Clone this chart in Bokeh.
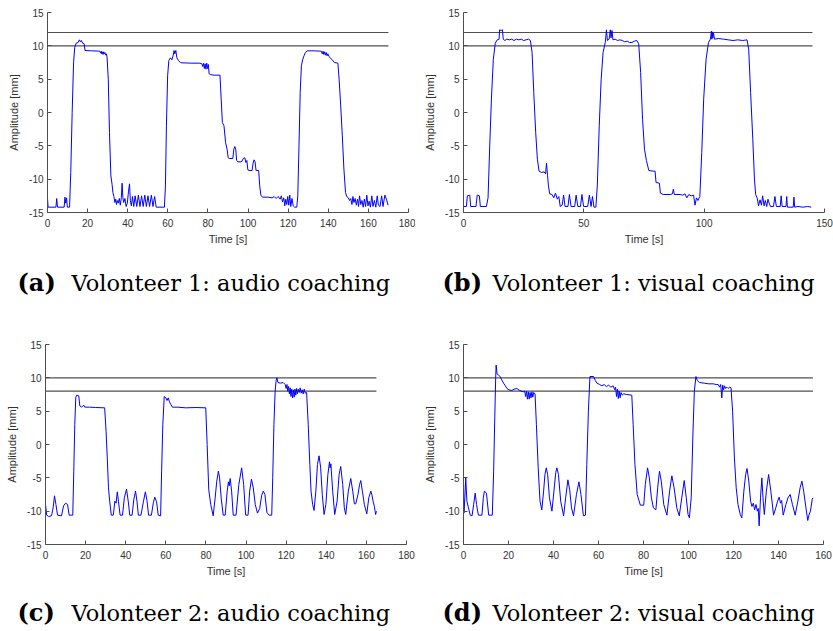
from bokeh.plotting import figure
from bokeh.layouts import column, row
from bokeh.models import Range1d, FixedTicker
from bokeh.embed import file_html
from bokeh.resources import INLINE
from bokeh.core.properties import value

# ---------------- data ----------------
y_ticks = [-15, -10, -5, 0, 5, 10, 15]

a_xticks = [0, 20, 40, 60, 80, 100, 120, 140, 160, 180]
b_xticks = [0, 50, 100, 150]
c_xticks = [0, 20, 40, 60, 80, 100, 120, 140, 160, 180]
d_xticks = [0, 20, 40, 60, 80, 100, 120, 140, 160]

a_xmax, b_xmax, c_xmax, d_xmax = 180, 150, 180, 160

a_levels = [10, 12]
b_levels = [10, 12]
c_levels = [8, 10]
d_levels = [8, 10]

a_end, b_end, c_end, d_end = 170, 145, 165, 155.3

trace_a = [(0.0,-12.9),(0.3,-14.2),(4.2,-14.2),(4.6,-12.9),(5.0,-14.2),(8.3,-14.2),(8.7,-12.7),(9.1,-13.6),(9.5,-12.8),(9.9,-14.2),
    (11.0,-14.2),(11.6,-9.0),(12.3,0.0),(13.0,7.5),(13.6,9.8),(14.3,10.4),(15.2,10.5),(15.9,10.9),(16.4,10.6),(16.9,10.8),(17.5,10.4),
    (18.3,10.3),(18.7,9.3),(22.0,9.25),(26.0,9.2),(26.5,8.9),(26.8,9.2),(27.1,8.8),(27.4,9.1),(27.7,8.7),(28.0,9.1),(28.3,8.8),(28.6,9.0),
    (29.0,8.6),(29.4,8.8),(29.7,8.3),(30.3,5.0),(30.9,-3.0),(31.6,-9.5),(32.2,-10.8),(32.6,-12.0),(33.1,-12.6),(33.6,-13.5),(34.0,-13.0),
    (34.4,-13.8),(34.8,-13.2),(35.3,-13.6),(35.8,-12.9),(36.3,-13.9),(36.8,-12.8),(37.2,-10.6),(37.6,-12.8),(38.0,-13.5),(38.6,-12.9),
    (39.2,-14.1),(39.8,-13.6),(40.4,-11.8),(40.9,-10.7),(41.3,-13.2),(41.8,-14.0),(42.4,-12.6),(43.0,-14.1),(43.7,-12.5),(44.5,-14.1),
    (45.3,-12.4),(46.1,-14.1),(46.9,-12.5),(47.7,-14.1),(48.5,-12.4),(49.3,-14.1),(50.1,-12.5),(50.9,-14.1),(51.8,-12.4),(52.6,-14.1),
    (53.4,-12.6),(54.2,-14.2),(58.3,-14.2),(58.8,-11.0),(59.3,-2.0),(59.9,5.5),(60.5,7.8),(61.3,8.2),(62.0,7.9),(62.6,8.5),(63.1,9.3),
    (63.5,8.8),(64.0,9.3),(64.5,8.2),(65.3,7.8),(66.2,7.5),(67.0,7.45),(72.0,7.4),(76.0,7.4),(77.0,7.3),(77.4,6.9),(77.8,7.4),(78.2,6.6),
    (78.6,7.3),(79.0,6.5),(79.4,7.4),(79.8,6.6),(80.2,7.2),(80.6,5.8),(81.2,5.7),(83.0,5.6),(86.0,5.6),(86.6,2.0),(87.2,-1.5),(88.0,-2.0),
    (88.8,-4.5),(89.6,-5.6),(90.1,-6.8),(90.6,-6.9),(92.4,-6.9),(92.9,-5.5),(93.4,-5.1),(93.9,-5.6),(94.3,-7.2),(95.0,-7.4),(96.4,-7.4),
    (97.0,-7.3),(97.6,-6.9),(98.4,-6.8),(98.9,-7.5),(99.4,-7.2),(99.9,-8.6),(100.5,-8.7),(102.0,-8.7),(102.5,-7.6),(103.0,-7.1),(103.5,-7.4),
    (104.0,-8.7),(105.3,-8.7),(105.8,-11.0),(106.4,-12.4),(107.2,-12.7),(110.0,-12.7),(112.0,-12.8),(113.0,-12.6),(114.0,-12.9),(115.0,-12.6),
    (116.0,-13.0),(116.6,-12.5),(117.2,-13.4),(117.8,-12.8),(118.3,-14.0),(118.8,-13.0),(119.3,-13.8),(119.8,-12.6),(120.3,-13.9),(120.8,-12.4),
    (121.3,-14.1),(121.9,-12.9),(122.5,-14.0),(123.2,-14.2),(124.3,-14.2),(124.8,-12.5),(125.4,-5.0),(126.0,3.0),(126.6,7.0),(127.3,8.0),
    (127.9,8.5),(128.6,9.0),(129.5,9.25),(133.0,9.25),(136.5,9.2),(137.0,8.8),(137.4,9.2),(137.8,8.7),(138.2,9.1),(138.6,8.6),(139.0,9.0),
    (139.4,8.5),(139.8,8.8),(140.4,8.4),(141.2,8.1),(142.0,7.9),(143.0,7.5),(144.8,7.4),(145.4,5.0),(146.2,1.0),(147.0,-3.5),(147.8,-8.5),
    (148.6,-12.0),(149.2,-12.6),(150.0,-12.8),(150.6,-13.2),(151.2,-12.9),(151.8,-13.8),(152.3,-12.6),(152.8,-13.5),(153.4,-12.9),(154.0,-13.9),
    (154.6,-13.0),(155.1,-14.1),(155.6,-12.5),(156.2,-13.8),(156.8,-13.2),(157.4,-14.2),(158.0,-13.0),(158.6,-14.1),(159.2,-12.4),(159.8,-14.0),
    (160.4,-13.3),(161.0,-14.2),(161.7,-12.5),(162.3,-14.1),(163.0,-13.2),(163.7,-14.2),(164.4,-12.5),(165.0,-13.9),(165.8,-14.1),(166.6,-12.5),
    (167.3,-14.1),(168.2,-12.4),(169.0,-13.0),(169.8,-13.9)]

trace_b = [(0.0,-14.1),(1.2,-14.1),(1.6,-12.5),(2.6,-12.4),(3.0,-14.1),(5.2,-14.1),(5.7,-12.4),(6.6,-12.5),(7.0,-14.1),(9.5,-14.1),
    (10.2,-12.8),(10.9,-5.0),(11.6,2.0),(12.4,8.0),(13.2,10.4),(14.0,10.9),(14.8,11.0),(15.0,12.4),(15.6,12.3),(16.2,12.4),(16.5,11.0),
    (17.2,10.8),(18.0,11.0),(19.0,10.9),(20.0,11.0),(21.0,10.8),(22.0,11.0),(23.0,10.9),(24.0,11.0),(25.0,10.8),(26.0,10.9),(27.0,11.0),
    (27.8,10.8),(28.5,9.0),(29.2,3.0),(30.0,-3.0),(30.7,-7.0),(31.4,-8.8),(32.5,-9.0),(33.5,-8.9),(34.1,-9.2),(34.5,-7.6),(34.9,-9.4),
    (35.3,-11.0),(35.8,-12.2),(36.8,-12.3),(37.5,-12.8),(38.2,-12.1),(39.0,-13.0),(39.6,-12.6),(40.2,-14.1),(41.0,-13.9),(41.6,-12.4),
    (42.2,-14.1),(43.4,-14.1),(44.0,-12.3),(44.7,-14.1),(46.2,-14.1),(46.8,-12.4),(47.5,-14.1),(48.6,-14.1),(49.2,-12.3),(49.9,-14.1),
    (51.6,-14.1),(52.3,-12.4),(53.0,-14.1),(53.6,-12.6),(54.2,-14.2),(55.0,-14.2),(55.6,-11.0),(56.4,-2.0),(57.2,5.0),(58.0,9.0),(58.9,10.5),
    (59.4,12.4),(59.8,10.8),(60.5,11.0),(61.0,12.4),(61.3,11.2),(61.7,12.3),(62.1,10.9),(63.0,11.0),(64.0,10.8),(65.0,10.9),(66.0,10.8),
    (67.0,10.6),(68.0,10.7),(69.0,10.5),(70.0,10.5),(71.0,10.7),(72.0,10.8),(72.8,10.3),(73.6,6.0),(74.4,-1.0),(75.2,-5.5),(76.0,-7.2),
    (77.0,-8.7),(78.8,-8.8),(79.6,-8.8),(80.0,-10.5),(81.4,-10.6),(81.8,-12.1),(83.0,-12.3),(86.0,-12.3),(86.8,-12.2),(87.2,-11.5),(87.6,-12.3),
    (90.0,-12.3),(91.0,-12.4),(92.0,-12.2),(92.8,-12.8),(93.6,-12.3),(94.6,-12.5),(95.6,-12.4),(96.2,-13.9),(96.8,-12.8),(97.4,-13.2),
    (98.2,-12.6),(99.0,-6.0),(99.8,2.0),(100.8,8.0),(101.8,10.5),(102.6,11.0),(103.0,12.2),(103.2,11.0),(103.4,12.1),(103.6,11.2),(103.9,11.9),
    (104.3,11.0),(106.0,11.1),(108.0,11.0),(110.0,10.9),(112.0,10.8),(114.0,10.9),(116.0,10.8),(117.8,10.9),(118.5,9.5),(119.3,3.0),
    (120.2,-4.0),(120.9,-10.0),(121.4,-12.3),(122.0,-12.8),(122.6,-14.0),(123.2,-13.1),(123.8,-13.9),(124.3,-12.5),(124.9,-14.0),(125.4,-13.2),
    (126.0,-14.1),(126.5,-13.0),(127.0,-13.6),(127.6,-14.1),(128.8,-14.1),(129.4,-12.6),(130.0,-14.1),(131.6,-14.1),(132.0,-12.5),(132.4,-14.1),
    (134.0,-14.1),(134.3,-12.6),(134.6,-14.2),(137.0,-14.2),(137.3,-12.7),(137.6,-14.2),(139.0,-14.1),(141.0,-14.2),(143.0,-14.1),(144.5,-14.2)]

trace_c = [(0.0,-9.0),(0.6,-10.6),(1.5,-10.8),(3.0,-10.7),(3.8,-9.5),(4.5,-7.7),(5.2,-9.0),(6.0,-10.6),(8.0,-10.7),(9.0,-9.2),(10.0,-8.8),
    (11.0,-9.0),(11.8,-10.6),(13.6,-10.6),(14.1,-4.0),(14.6,3.0),(15.1,7.1),(15.6,7.4),(16.6,7.3),(17.1,5.8),(18.0,5.6),(19.0,5.9),(19.6,5.6),
    (22.0,5.6),(25.0,5.55),(29.5,5.5),(30.2,2.0),(30.8,-2.0),(31.4,-6.5),(32.0,-8.5),(32.8,-10.6),(33.8,-10.6),(34.6,-8.5),(35.2,-8.8),
    (35.8,-7.1),(36.4,-8.6),(37.2,-10.6),(38.4,-10.6),(39.3,-8.0),(40.4,-6.7),(41.3,-8.6),(42.0,-10.6),(43.2,-10.6),(44.0,-8.3),(44.9,-7.0),
    (45.6,-8.5),(46.3,-10.6),(47.6,-10.6),(48.8,-8.6),(49.8,-7.1),(50.6,-8.4),(51.4,-10.6),(52.8,-10.6),(53.8,-8.7),(54.5,-7.9),(55.4,-8.6),
    (56.2,-10.6),(57.4,-10.7),(57.9,-4.0),(58.5,3.0),(59.2,7.2),(60.0,7.0),(60.6,6.6),(61.2,7.0),(61.8,6.4),(62.5,6.0),(63.3,5.6),(66.0,5.6),
    (70.0,5.5),(75.0,5.55),(79.9,5.5),(80.6,0.0),(81.4,-6.8),(82.4,-9.0),(83.6,-10.7),(84.6,-8.0),(85.4,-5.5),(86.2,-4.0),(86.8,-5.0),
    (87.6,-8.0),(88.6,-10.6),(89.6,-10.6),(90.6,-7.0),(91.2,-5.6),(91.6,-6.2),(92.1,-5.1),(92.8,-7.0),(93.6,-10.6),(95.0,-10.6),(96.4,-6.0),
    (97.8,-3.5),(98.8,-6.0),(99.8,-10.6),(101.0,-10.6),(101.8,-7.0),(102.7,-5.2),(103.6,-6.5),(104.6,-9.0),(105.7,-10.3),(106.8,-9.6),
    (107.8,-7.6),(108.6,-7.0),(109.4,-7.5),(110.4,-10.2),(111.5,-10.6),(112.8,-10.6),(113.3,-5.0),(113.9,3.0),(114.5,8.0),(115.0,9.6),
    (115.4,10.0),(115.9,9.3),(117.0,9.2),(118.5,9.3),(119.5,9.0),(120.0,8.4),(120.4,9.0),(120.8,8.0),(121.2,8.7),(121.6,7.6),(122.0,8.5),
    (122.4,7.2),(122.8,8.3),(123.2,7.0),(123.6,8.2),(124.0,7.1),(124.4,8.3),(124.8,7.4),(125.2,8.4),(125.6,7.6),(126.0,8.3),(126.5,7.8),
    (127.0,8.5),(127.5,7.7),(128.0,8.2),(128.5,7.6),(129.0,8.3),(129.5,7.7),(130.2,7.8),(131.0,3.0),(131.8,-3.0),(132.4,-7.0),(133.2,-9.0),
    (133.9,-9.9),(134.8,-7.0),(135.6,-3.0),(136.4,-1.7),(137.2,-3.5),(138.0,-7.5),(138.9,-10.5),(139.8,-9.0),(140.8,-4.5),(141.6,-2.6),
    (141.9,-3.5),(142.3,-2.9),(143.2,-7.0),(144.2,-10.5),(145.4,-8.5),(146.4,-4.5),(147.2,-3.3),(148.2,-6.0),(149.0,-9.5),(149.7,-10.5),
    (151.0,-7.0),(152.2,-5.1),(153.2,-7.0),(154.0,-8.9),(154.7,-8.9),(155.8,-7.5),(156.6,-6.0),(157.2,-5.4),(158.0,-7.0),(159.0,-9.0),
    (160.2,-10.4),(161.2,-8.0),(162.2,-7.0),(162.8,-7.6),(163.4,-8.6),(164.0,-9.3),(164.6,-10.5),(165.0,-10.0)]

trace_d = [(0.0,-5.2),(0.2,-10.3),(0.6,-8.0),(1.0,-5.0),(1.5,-8.5),(2.2,-9.5),(3.0,-10.6),(3.8,-10.7),(4.5,-9.0),(5.2,-7.3),(5.8,-9.0),
    (6.6,-10.6),(8.2,-10.6),(8.8,-8.0),(9.3,-7.0),(10.2,-7.3),(11.2,-10.6),(12.8,-10.6),(13.4,-4.0),(13.9,4.0),(14.3,10.0),(14.5,11.9),
    (14.9,10.6),(15.6,10.4),(16.3,10.2),(17.0,9.7),(17.8,9.2),(18.6,8.8),(19.3,8.4),(20.2,8.2),(21.5,8.1),(22.5,8.3),(23.7,8.4),(25.0,8.1),
    (26.5,7.9),(27.2,8.0),(27.6,7.2),(28.0,8.0),(28.4,6.8),(28.8,7.9),(29.2,6.8),(29.6,7.8),(30.0,7.0),(30.4,7.9),(30.8,7.1),(31.2,7.8),
    (31.8,7.6),(32.4,3.0),(33.2,-3.5),(34.0,-8.5),(34.8,-9.8),(35.6,-7.0),(36.2,-4.5),(36.8,-3.5),(37.4,-4.5),(38.2,-8.0),(39.3,-10.0),
    (40.2,-7.0),(41.0,-4.2),(41.5,-3.5),(42.2,-4.5),(43.2,-8.5),(44.5,-10.7),(45.4,-8.0),(46.4,-5.3),(47.2,-6.8),(48.0,-9.5),(48.9,-10.7),
    (50.2,-7.5),(51.3,-5.6),(52.2,-7.5),(53.3,-10.7),(54.2,-10.6),(54.8,-3.0),(55.5,5.0),(56.2,10.2),(57.8,10.2),(58.6,9.6),(59.3,9.2),
    (60.5,9.0),(61.5,8.8),(62.5,9.0),(63.5,8.7),(64.5,8.9),(65.5,8.6),(66.5,8.8),(67.2,8.2),(67.6,8.6),(68.0,7.2),(68.4,8.3),(68.8,6.9),
    (69.2,8.0),(69.6,7.0),(70.0,7.8),(70.5,7.4),(71.2,7.6),(72.6,7.5),(74.8,7.4),(75.4,3.0),(76.2,-3.0),(77.2,-7.5),(78.6,-9.1),(80.1,-9.1),
    (80.8,-6.0),(81.8,-3.5),(82.6,-5.0),(83.5,-8.0),(84.4,-9.5),(85.5,-9.8),(86.3,-6.5),(87.1,-4.0),(87.9,-5.5),(89.0,-9.0),(90.4,-10.6),
    (91.6,-7.0),(92.6,-4.7),(93.6,-6.5),(94.8,-9.5),(95.9,-10.7),(97.0,-8.0),(98.1,-5.4),(99.0,-8.0),(99.8,-10.5),(100.4,-11.0),(101.2,-8.0),
    (102.0,2.0),(102.6,8.0),(103.3,10.2),(103.9,9.6),(104.9,9.3),(107.0,9.2),(109.0,9.1),(111.0,9.1),(112.3,9.0),(113.2,9.0),(113.8,8.6),
    (114.3,9.0),(114.8,7.0),(115.2,8.9),(115.6,8.2),(116.0,8.8),(116.5,8.4),(117.0,8.6),(117.6,8.4),(118.3,8.6),(118.9,8.5),(119.6,5.0),
    (120.4,-2.0),(121.2,-6.5),(122.0,-9.0),(123.0,-10.5),(123.7,-11.0),(124.6,-7.0),(125.4,-4.5),(126.0,-3.6),(126.8,-5.5),(127.6,-8.5),
    (128.2,-9.3),(128.8,-8.8),(129.4,-9.8),(130.0,-9.0),(130.6,-10.0),(131.0,-9.6),(131.4,-12.2),(132.0,-8.0),(132.6,-5.0),(133.2,-8.5),
    (133.7,-10.5),(134.6,-7.0),(135.6,-4.5),(136.6,-7.0),(137.8,-10.6),(138.8,-9.5),(139.6,-8.5),(140.3,-7.9),(140.9,-8.8),(141.4,-8.4),
    (142.1,-10.6),(143.3,-9.0),(144.2,-8.0),(145.2,-7.5),(146.2,-9.0),(147.4,-10.6),(148.6,-8.5),(149.6,-6.5),(150.4,-5.5),(151.2,-7.0),
    (152.2,-9.5),(153.0,-11.4),(153.5,-10.6),(154.2,-10.0),(155.0,-8.2),(155.3,-8.0)]

x_label = "Time [s]"
y_label = "Amplitude [mm]"

cap_a = ("(a)", "Volonteer 1: audio coaching")
cap_b = ("(b)", "Volonteer 1: visual coaching")
cap_c = ("(c)", "Volonteer 2: audio coaching")
cap_d = ("(d)", "Volonteer 2: visual coaching")

# ---------------- styling helpers ----------------
AX = "#4d4d4d"
LBL = "#333333"


def panel(width, height, bl, br, bt, bb, xmax, xticks, trace, levels, tend):
    t = [p[0] for p in trace]
    y = [p[1] for p in trace]
    p = figure(width=width, height=height, output_backend="svg", toolbar_location=None,
               x_range=Range1d(0, xmax), y_range=Range1d(-15, 15),
               min_border_left=bl, min_border_right=br, min_border_top=bt, min_border_bottom=bb)
    p.outline_line_color = None
    p.grid.visible = False
    for lv in levels:
        p.line([0, tend], [lv, lv], line_color="#505050", line_width=1.2)
    p.line(t, y, line_color="#0000ff", line_width=1)
    p.xaxis.ticker = FixedTicker(ticks=xticks)
    p.yaxis.ticker = FixedTicker(ticks=y_ticks)
    p.xaxis.major_label_overrides = {v: str(v) for v in xticks}
    p.yaxis.major_label_overrides = {v: str(v) for v in y_ticks}
    for ax in (p.xaxis, p.yaxis):
        ax.axis_line_color = AX
        ax.major_tick_line_color = AX
        ax.major_tick_in = 4
        ax.major_tick_out = 0
        ax.minor_tick_line_color = None
        ax.major_label_text_font = "Liberation Sans"
        ax.major_label_text_font_size = "10px"
        ax.major_label_text_color = LBL
        ax.axis_label_text_font = "Liberation Sans"
        ax.axis_label_text_font_size = "11px"
        ax.axis_label_text_font_style = "normal"
        ax.axis_label_text_color = LBL
    p.xaxis.major_label_standoff = 6
    p.xaxis.axis_label_standoff = 3
    p.yaxis.major_label_standoff = 4
    p.yaxis.axis_label_standoff = 6
    p.xaxis.axis_label = x_label
    p.yaxis.axis_label = y_label
    return p


def caption(width, height, cap, x_tag, x_text, y_mid):
    c = figure(width=width, height=height, output_backend="svg", toolbar_location=None,
               x_range=Range1d(0, width), y_range=Range1d(0, height),
               x_axis_location=None, y_axis_location=None, min_border=0)
    c.grid.visible = False
    c.outline_line_color = None
    c.text(x=[x_tag], y=[y_mid], text=[cap[0]], text_font=value("DejaVu Serif"),
           text_font_size="24px", text_font_style="bold", text_baseline="middle",
           text_color="black")
    c.text(x=[x_text], y=[y_mid], text=[cap[1]], text_font=value("DejaVu Serif"),
           text_font_size="22.5px", text_baseline="middle", text_color="black")
    return c


fa = panel(415, 250, 47, 7, 12, 38, a_xmax, a_xticks, trace_a, a_levels, a_end)
fb = panel(418, 250, 48, 9, 12, 38, b_xmax, b_xticks, trace_b, b_levels, b_end)
fc = panel(415, 262, 45, 9, 26, 36, c_xmax, c_xticks, trace_c, c_levels, c_end)
fd = panel(418, 262, 48, 10, 26, 36, d_xmax, d_xticks, trace_d, d_levels, d_end)

ca = caption(415, 68, cap_a, 17, 71, 36)
cb = caption(418, 68, cap_b, 27, 77, 36)
cc = caption(415, 51, cap_c, 17, 71, 19)
cd = caption(418, 51, cap_d, 27, 77, 19)

layout = column(row(fa, fb), row(ca, cb), row(fc, fd), row(cc, cd))

open("out.html", "w").write(file_html(layout, INLINE))
